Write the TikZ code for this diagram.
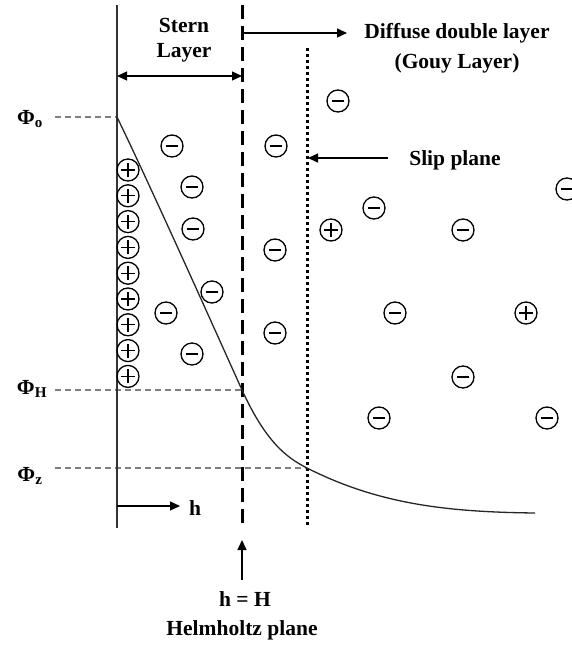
\documentclass[tikz,border=0pt]{standalone}
\usepackage{fontspec}
\setmainfont{Liberation Serif}
\usetikzlibrary{arrows.meta}

\begin{document}
\begin{tikzpicture}[x=1pt, y=-1pt,
  every node/.style={font=\fontsize{21.5}{24}\selectfont\bfseries, inner sep=0pt},
  ion/.style={circle, draw, line width=1.3pt, minimum size=22pt, inner sep=0pt},
  anion/.style={ion, path picture={
    \draw[line width=1.3pt] ([xshift=-6pt]path picture bounding box.center) -- ([xshift=6pt]path picture bounding box.center);}},
  cation/.style={ion, path picture={
    \draw[line width=1.2pt] ([xshift=-7pt]path picture bounding box.center) -- ([xshift=7pt]path picture bounding box.center);
    \draw[line width=1.2pt] ([yshift=-7pt]path picture bounding box.center) -- ([yshift=7pt]path picture bounding box.center);}},
  wall/.style={line width=1.3pt, black!80},
  helm/.style={line width=3pt, dash pattern=on 14pt off 7pt},
  slipline/.style={line width=3pt, dash pattern=on 3pt off 3pt},
  refline/.style={gray, line width=1.7pt, dash pattern=on 6pt off 4pt},
  tip/.style={-{Triangle[length=10pt,width=9pt]}, line width=1.3pt}]
  \clip (0,0) rectangle (572,645);
  % planes
  \coordinate (w1) at (117,5);   \coordinate (w2) at (117,528);
  \coordinate (hp1) at (242,5);  \coordinate (hp2) at (242,530);
  \coordinate (sp1) at (307,48); \coordinate (sp2) at (307,525);
  \coordinate (c0) at (117,117); \coordinate (cH) at (242,390);
  \coordinate (cz) at (307,468); \coordinate (cend) at (535,513);
  % potential levels
  \node (phio) at (30,119) {Φ\textsubscript{o}};
  \node (phiH) at (32,389) {Φ\textsubscript{H}};
  \node (phiz) at (30,476) {Φ\textsubscript{z}};
  \draw[refline] (55,117) -- (c0);
  \draw[refline] (55,390) -- (cH);
  \draw[refline] (55,468) -- (cz);
  \draw[wall] (w1) -- (w2);
  \draw[helm] (hp1) -- (hp2);
  \draw[slipline] (sp1) -- (sp2);
  % potential curve
  \draw[line width=1.3pt, black!85] (c0) .. controls (150,185) and (215,330) .. (cH)
    .. controls (265,440) and (285,457) .. (cz)
    .. controls (380,505) and (450,512) .. (cend);
  % labels and arrows
  \node (stern) at (184,25) {Stern};
  \node (layer) at (184,53) {Layer};
  \draw[{Triangle[length=10pt,width=9pt]}-{Triangle[length=10pt,width=9pt]}, line width=1.3pt] (117,76) -- (242,76);
  \coordinate (dd) at (347,33);
  \draw[tip] (242,33) -- (dd);
  \node (diffuse) at (457,33) {Diffuse double layer};
  \node (gouy) at (457,63) {(Gouy Layer)};
  \coordinate (slipstart) at (388,158);
  \draw[tip] (slipstart) -- (308,158);
  \node (slip) at (455,160) {Slip plane};
  \draw[tip] (117,506) -- (180,506);
  \node (h) at (195,508) {h};
  \draw[tip] (242,580) -- (242,540);
  \node (hH) at (245,599) {h = H};
  \node (helmholtz) at (242,630) {Helmholtz plane};
  % adsorbed cations
  \foreach \i in {0,...,8} {
    \node[cation] (p\i) at (128,{170+25.8*\i}) {};
  }
  % free ions
  \foreach \x/\y [count=\k] in {172/146, 276/146, 338/101, 192/187, 193/229, 374/208,
      463/230, 567/189, 275/250, 212/292, 166/313, 395/313, 275/333, 192/354,
      463/377, 379/418, 547/418} {
    \node[anion] (m\k) at (\x,\y) {};
  }
  \node[cation] (q1) at (331,230) {};
  \node[cation] (q2) at (526,313) {};
\end{tikzpicture}
\end{document}
